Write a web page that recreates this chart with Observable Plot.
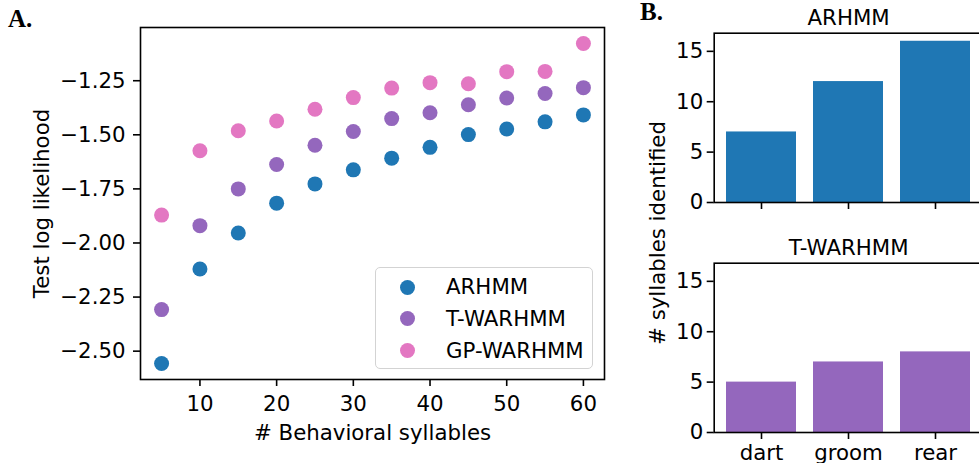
<!DOCTYPE html>
<html>
<head>
<meta charset="utf-8">
<script src="https://cdn.jsdelivr.net/npm/d3@7"></script>
<script src="https://cdn.jsdelivr.net/npm/@observablehq/plot@0.6"></script>
<style>
  body { margin: 0; background: #fff; overflow: hidden; }
  #root { position: relative; width: 979px; height: 463px; overflow: hidden; font-family: "DejaVu Sans"; background: #fff; }
  #root svg { position: absolute; }
  .panel { position: absolute; font: bold 25px "Liberation Serif"; line-height: 1; color: #000; }
  .legend { position: absolute; box-sizing: border-box; border: 1.4px solid #d3d3d3; border-radius: 5px; background: rgba(255,255,255,0.8); }
  .legend .row { position: absolute; left: 0; height: 0; }
  .legend .sw { position: absolute; width: 15px; height: 15px; border-radius: 50%; }
  .legend .lab { position: absolute; font-size: 21.3px; line-height: 1; white-space: nowrap; color: #000; }
  .ylab { position: absolute; font-size: 21.3px; line-height: 1; white-space: nowrap; color: #000; transform: translate(-50%, -50%) rotate(-90deg); }
</style>
</head>
<body>
<div id="root"></div>
<script>
// ---- data ----
const syllables = [5, 10, 15, 20, 25, 30, 35, 40, 45, 50, 55, 60];
const arhmm    = [-2.557, -2.120, -1.954, -1.816, -1.727, -1.662, -1.608, -1.558, -1.499, -1.473, -1.440, -1.408];
const twarhmm  = [-2.308, -1.920, -1.750, -1.637, -1.548, -1.485, -1.425, -1.398, -1.361, -1.330, -1.309, -1.282];
const gpwarhmm = [-1.871, -1.574, -1.481, -1.436, -1.382, -1.328, -1.284, -1.259, -1.264, -1.208, -1.207, -1.078];
const models = ["ARHMM", "T-WARHMM", "GP-WARHMM"];
const modelColors = ["#1f77b4", "#9467bd", "#e377c2"];
const xTicks = [10, 20, 30, 40, 50, 60];
const yTicks = [-2.5, -2.25, -2.0, -1.75, -1.5, -1.25];

const behaviors = ["dart", "groom", "rear"];
const arhmmCounts = [7, 12, 16];
const twarhmmCounts = [5, 7, 8];
const countTicks = [0, 5, 10, 15];

// ---- build ----
const root = document.getElementById("root");
const FONT = {fontSize: "21.3px", fontFamily: "DejaVu Sans", color: "black", background: "transparent"};
const seriesVals = [arhmm, twarhmm, gpwarhmm];
const points = models.flatMap((m, j) => syllables.map((s, i) => ({model: m, k: s, ll: seriesVals[j][i]})));

const left = Plot.plot({
  width: 620, height: 463,
  marginLeft: 140, marginRight: 16, marginTop: 27, marginBottom: 84,
  style: FONT,
  x: {domain: [2.25, 62.75]},
  y: {domain: [-2.631, -1.004]},
  color: {domain: models, range: modelColors},
  marks: [
    Plot.dot(points, {x: "k", y: "ll", fill: "model", r: 7.5}),
    Plot.frame({stroke: "black", strokeWidth: 1.6}),
    Plot.axisX({ticks: xTicks, tickSize: 7, tickPadding: 9, strokeWidth: 1.6,
      label: "# Behavioral syllables", labelAnchor: "center", labelOffset: 60, labelArrow: false}),
    Plot.axisY({ticks: yTicks, tickSize: 7, tickPadding: 8, strokeWidth: 1.6, tickFormat: d3.format(".2f"),
      label: "Test log likelihood", labelAnchor: "center", labelOffset: 107, labelArrow: false})
  ]
});
left.style.left = "0px"; left.style.top = "0px";
root.appendChild(left);

function barChart(counts, color, title, showLabels, h) {
  return Plot.plot({
    width: 380, height: h,
    marginLeft: 93.7, marginRight: 17.5, marginTop: 32.7, marginBottom: h - 32.7 - 169.3,
    style: FONT,
    x: {domain: behaviors, paddingInner: 0.2, paddingOuter: 0.14},
    y: {domain: [0, 16.8]},
    marks: [
      Plot.barY(behaviors.map((b, i) => ({b, n: counts[i]})), {x: "b", y: "n", fill: color}),
      Plot.frame({stroke: "black", strokeWidth: 1.6}),
      Plot.axisX({tickSize: 7, tickPadding: 5.5, strokeWidth: 1.6, label: null,
        tickFormat: showLabels ? (d => d) : (() => "")}),
      Plot.axisY({ticks: countTicks, tickSize: 7, tickPadding: 4, strokeWidth: 1.6, label: null}),
      Plot.text([title], {frameAnchor: "top", lineAnchor: "bottom", dy: -8.7, fontSize: 21.3, fill: "black"})
    ]
  });
}
const top1 = barChart(arhmmCounts, modelColors[0], models[0], false, 230);
top1.style.left = "620px"; top1.style.top = "0px";
root.appendChild(top1);
const bot1 = barChart(twarhmmCounts, modelColors[1], models[1], true, 233);
bot1.style.left = "620px"; bot1.style.top = "230px";
root.appendChild(bot1);

// shared y label for panel B
const yl = document.createElement("div");
yl.className = "ylab";
yl.textContent = "# syllables identified";
yl.style.left = "658.3px"; yl.style.top = "232.5px";
root.appendChild(yl);

// legend
const lg = document.createElement("div");
lg.className = "legend";
lg.style.left = "375px"; lg.style.top = "267px"; lg.style.width = "218px"; lg.style.height = "102px";
models.forEach((m, i) => {
  const row = document.createElement("div");
  row.className = "row";
  row.style.top = (19 + i * 31.7) + "px";
  const sw = document.createElement("span");
  sw.className = "sw"; sw.style.background = modelColors[i];
  sw.style.left = "23.5px"; sw.style.top = "-7.5px";
  const lab = document.createElement("span");
  lab.className = "lab"; lab.textContent = m;
  lab.style.left = "70px"; lab.style.top = "-10.7px";
  row.appendChild(sw); row.appendChild(lab);
  lg.appendChild(row);
});
root.appendChild(lg);

// panel letters
const A = document.createElement("div");
A.className = "panel"; A.textContent = "A."; A.style.left = "8px"; A.style.top = "5.8px";
root.appendChild(A);
const B = document.createElement("div");
B.className = "panel"; B.textContent = "B."; B.style.left = "640px"; B.style.top = "-0.9px";
root.appendChild(B);
</script>
</body>
</html>
